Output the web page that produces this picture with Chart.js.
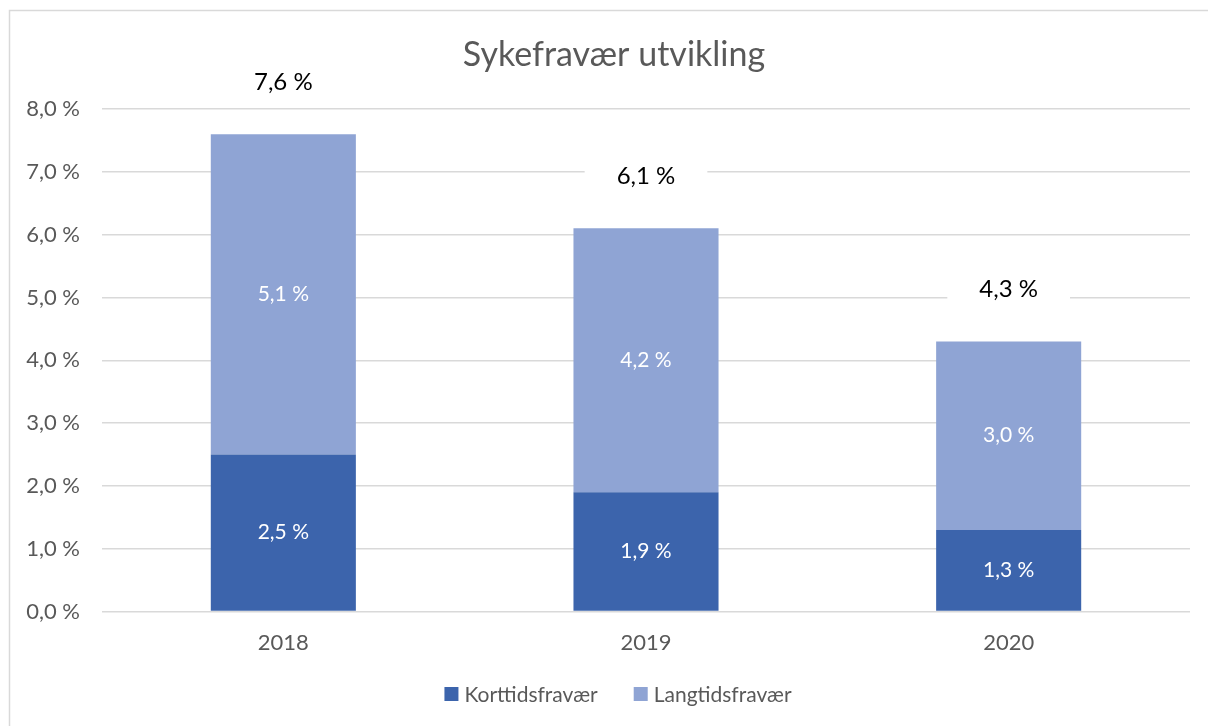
<!DOCTYPE html>
<html>
<head>
<meta charset="utf-8">
<script src="https://cdn.jsdelivr.net/npm/chart.js@4/dist/chart.umd.min.js"></script>
<style>
  html, body { margin: 0; padding: 0; background: #fff; }
  #wrap { width: 1208px; height: 726px; position: relative; }
</style>
</head>
<body>
<div id="wrap"><canvas id="sick-chart"></canvas></div>
<script>
// data
const years = ['2018', '2019', '2020'];
const shortTerm = [2.5, 1.9, 1.3];   // Korttidsfravær
const longTerm = [5.1, 4.2, 3.0];    // Langtidsfravær
const totals = [7.6, 6.1, 4.3];
const yTicks = [0, 1, 2, 3, 4, 5, 6, 7, 8];

const FONT = 'Lato, "Open Sans", sans-serif';
const TEXT_GREY = '#595959';

function pct(v) {
    return v.toFixed(1).replace('.', ',') + ' %';
}

// frame, title, legend, in-bar labels and totals
const decorations = {
    id: 'decorations',
    beforeDraw(chart) {
        const ctx = chart.ctx;
        ctx.save();
        ctx.strokeStyle = '#d9d9d9';
        ctx.lineWidth = 1.5;
        ctx.beginPath();
        ctx.moveTo(9.5, chart.height);
        ctx.lineTo(9.5, 10.5);
        ctx.lineTo(chart.width, 10.5);
        ctx.stroke();

        ctx.fillStyle = TEXT_GREY;
        ctx.font = '34px ' + FONT;
        ctx.textAlign = 'center';
        ctx.textBaseline = 'middle';
        ctx.fillText('Sykefravær utvikling', 614, 55);

        // legend
        ctx.font = '21px ' + FONT;
        ctx.textAlign = 'left';
        const items = chart.data.datasets.map(d => ({ label: d.label, color: d.backgroundColor }));
        const gap = 36, box = 14, boxGap = 6;
        const widths = items.map(it => box + boxGap + ctx.measureText(it.label).width);
        const total = widths.reduce((a, b) => a + b, 0) + gap * (items.length - 1);
        let x = 618 - total / 2;
        const y = 694;
        items.forEach((it, i) => {
            ctx.fillStyle = it.color;
            ctx.fillRect(x, y - box / 2, box, box);
            ctx.fillStyle = TEXT_GREY;
            ctx.fillText(it.label, x + box + boxGap, y + 1);
            x += widths[i] + gap;
        });
        ctx.restore();
    },
    afterDatasetsDraw(chart) {
        const ctx = chart.ctx;
        ctx.save();
        ctx.textAlign = 'center';
        ctx.textBaseline = 'middle';
        ctx.font = '21px ' + FONT;
        ctx.fillStyle = '#ffffff';
        chart.data.datasets.forEach((ds, di) => {
            chart.getDatasetMeta(di).data.forEach((bar, i) => {
                const mid = (bar.y + bar.base) / 2;
                ctx.fillText(pct(ds.data[i]), bar.x, mid);
            });
        });

        const yScale = chart.scales.y;
        const meta = chart.getDatasetMeta(1);
        ctx.font = '24px ' + FONT;
        totals.forEach((t, i) => {
            const x = meta.data[i].x;
            const y = yScale.getPixelForValue(t) - 52;
            const txt = pct(t);
            const w = ctx.measureText(txt).width + 64;
            ctx.fillStyle = '#ffffff';
            ctx.fillRect(x - w / 2, y - 16, w, 32);
            ctx.fillStyle = '#000000';
            ctx.fillText(txt, x, y);
        });
        ctx.restore();
    }
};

const ctx = document.getElementById('sick-chart').getContext('2d');

new Chart(ctx, {
    type: 'bar',
    data: {
        labels: years,
        datasets: [
            {
                label: 'Korttidsfravær',
                data: shortTerm,
                backgroundColor: '#3c64ac',
                barPercentage: 0.4,
                categoryPercentage: 1
            },
            {
                label: 'Langtidsfravær',
                data: longTerm,
                backgroundColor: '#8fa4d4',
                barPercentage: 0.4,
                categoryPercentage: 1
            }
        ]
    },
    options: {
        responsive: true,
        maintainAspectRatio: false,
        animation: false,
        layout: {
            padding: { left: 9, top: 109, right: 18, bottom: 60 }
        },
        plugins: {
            title: { display: false },
            legend: { display: false },
            tooltip: { enabled: false }
        },
        scales: {
            x: {
                stacked: true,
                grid: { display: false },
                border: { display: false },
                ticks: {
                    color: TEXT_GREY,
                    font: { family: FONT, size: 22 },
                    padding: 10
                }
            },
            y: {
                stacked: true,
                min: 0,
                max: 8,
                afterBuildTicks(scale) {
                    scale.ticks = yTicks.map(v => ({ value: v }));
                },
                afterFit(scale) {
                    scale.width = 93;
                },
                grid: { color: '#d9d9d9', lineWidth: 1.5, drawTicks: false },
                border: { display: false },
                ticks: {
                    color: TEXT_GREY,
                    font: { family: FONT, size: 22 },
                    padding: 22,
                    callback: v => pct(v)
                }
            }
        }
    },
    plugins: [decorations]
});
</script>
</body>
</html>
